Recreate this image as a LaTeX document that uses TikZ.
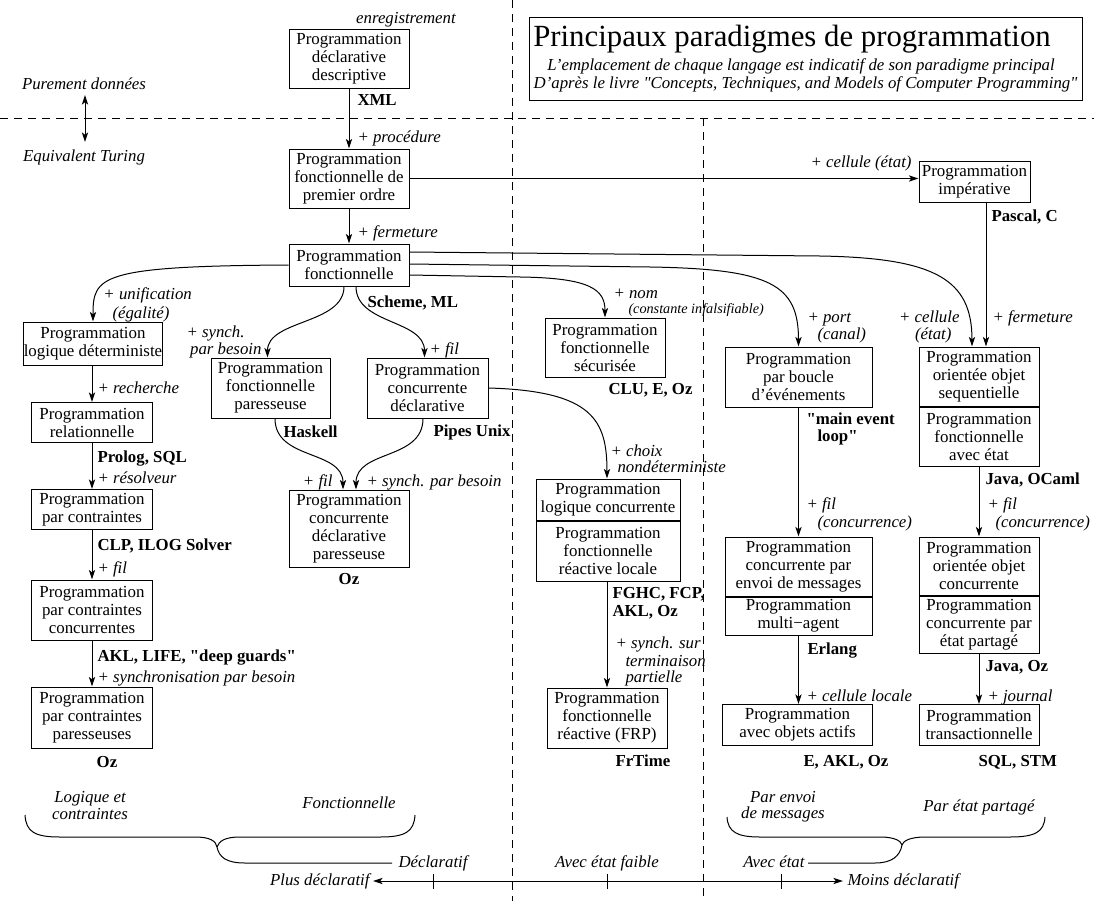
\documentclass[tikz,border=0pt]{standalone}
\usepackage{fontspec}
\setmainfont{Liberation Serif}[Ligatures=TeXOff]
\usetikzlibrary{arrows.meta,calc}
\newcommand\pgBox{\fontsize{8.45}{9}\selectfont}
\newcommand\pgLab{\fontsize{8.4}{8.5}\selectfont\itshape}
\newcommand\pgLang{\fontsize{8.4}{8.5}\selectfont\bfseries}
\newcommand\pgSmall{\fontsize{7.1}{8}\selectfont\itshape}
\newcommand\pgTitle{\fontsize{15.4}{17}\selectfont}
\begin{document}
\begin{tikzpicture}[x=0.5pt,y=-0.5pt,line width=0.5pt,
  bx/.style 2 args={draw, align=center, inner sep=0pt, minimum width=#1*0.5pt, minimum height=#2*0.5pt, font=\pgBox},
  lab/.style={inner sep=0pt, font=\pgLab, text height=5.8pt, text depth=1.6pt},
  lang/.style={inner sep=0pt, font=\pgLang, text height=5.8pt, text depth=1.6pt},
  sm/.style={inner sep=0pt, font=\pgSmall, text height=5pt, text depth=1.4pt},
  tip/.tip={Stealth[length=4.8pt,width=3.1pt,inset=1.2pt]},
  arr/.style={-tip},
  dsh/.style={dash pattern=on 4pt off 3pt},
]
\useasboundingbox (0,0) rectangle (1094,901);

% dashed separators
\coordinate (hl) at (0,118); \coordinate (hr) at (1094,118);
\coordinate (v1t) at (512,0); \coordinate (v1b) at (512,901);
\coordinate (v2t) at (703,118); \coordinate (v2b) at (703,901);
\draw[dsh] (hl) -- (hr);
\draw[dsh] (v1t) -- (v1b);
\draw[dsh] (v2t) -- (v2b);

% title
\node[draw, minimum width=276.5pt, minimum height=41.5pt, inner sep=0pt] (ttl) at (805.5,58.5) {};
\node[font=\pgTitle, inner sep=0pt] (ttlA) at (792,39) {Principaux paradigmes de programmation};
\node[lab] (ttlB) at (801,66) {L’emplacement de chaque langage est indicatif de son paradigme principal};
\node[lab] (ttlC) at (805.5,84) {D’après le livre "Concepts, Techniques, and Models of Computer Programming"};

% boxes
\node[bx={120}{59}] (xml) at (349,58.5) {Programmation\\déclarative\\descriptive};
\node[bx={120}{59}] (fpo) at (349,178.5) {Programmation\\fonctionnelle de\\premier ordre};
\node[bx={111}{41}] (imp) at (974.5,181.5) {Programmation\\impérative};
\node[bx={120}{42}] (fonc) at (349,265) {Programmation\\fonctionnelle};
\node[bx={138}{43}] (ldet) at (93,343.5) {Programmation\\logique déterministe};
\node[bx={121}{40}] (rel) at (92,422.5) {Programmation\\relationnelle};
\node[bx={121}{40}] (con) at (92,509.5) {Programmation\\par contraintes};
\node[bx={121}{60}] (ccc) at (92,610) {Programmation\\par contraintes\\concurrentes};
\node[bx={121}{61}] (cpar) at (92,717.5) {Programmation\\par contraintes\\paresseuses};
\node[bx={119}{60}] (lazy) at (270.5,388) {Programmation\\fonctionnelle\\paresseuse};
\node[bx={121}{60}] (cdec) at (427.5,388) {Programmation\\concurrente\\déclarative};
\node[bx={120}{77}] (cdl) at (349,528.5) {Programmation\\concurrente\\déclarative\\paresseuse};
\node[bx={120}{59}] (sec) at (605,347.5) {Programmation\\fonctionnelle\\sécurisée};
\node[bx={144}{41}] (lconA) at (608,499.5) {Programmation\\logique concurrente};
\node[bx={144}{60}, anchor=north] (lconB) at (lconA.south) {Programmation\\fonctionnelle\\réactive locale};
\node[bx={120}{60}] (frp) at (607,718) {Programmation\\fonctionnelle\\réactive (FRP)};
\node[bx={147}{60}] (ev) at (798.5,377) {Programmation\\par boucle\\d’événements};
\node[bx={147}{59}] (cmsgA) at (798.5,566.5) {Programmation\\concurrente par\\envoi de messages};
\node[bx={147}{38}, anchor=north] (cmsgB) at (cmsgA.south) {Programmation\\multi−agent};
\node[bx={150}{41}] (act) at (797.5,725) {Programmation\\avec objets actifs};
\node[bx={120}{59}] (oosA) at (979,376.5) {Programmation\\orientée objet\\sequentielle};
\node[bx={120}{59}, anchor=north] (oosB) at (oosA.south) {Programmation\\fonctionnelle\\avec état};
\node[bx={120}{58}] (ooccA) at (979,566) {Programmation\\orientée objet\\concurrente};
\node[bx={120}{57}, anchor=north] (ooccB) at (ooccA.south) {Programmation\\concurrente par\\état partagé};
\node[bx={120}{41}] (trans) at (979,725) {Programmation\\transactionnelle};

% connectors
\draw[arr] (xml) -- (fpo);
\draw[arr] (fpo) -- (fonc);
\draw[arr] (fpo.east) -- (fpo.east -| imp.west);
\draw[arr] (fonc.west) .. controls +(-190,1) and +(0,-45) .. (ldet.north);
\draw[arr] ([xshift=-2.5pt]fonc.south) .. controls +(0,38) and +(0,-38) .. ([xshift=-1.5pt]lazy.north);
\draw[arr] ([xshift=3.5pt]fonc.south) .. controls +(0,38) and +(0,-38) .. ([xshift=-1.5pt]cdec.north);
\draw[arr] ([yshift=6.5pt]fonc.east) -- ++(411,4) .. controls +(115,2) and +(0,-67) .. ([xshift=-3.5pt]oosA.north);
\draw[arr] ([yshift=0.5pt]fonc.east) -- ++(241,3) .. controls +(120,2) and +(0,-62) .. (ev.north);
\draw[arr] ([yshift=-5pt]fonc.east) -- ++(111,2) .. controls +(70,1) and +(0,-28) .. (sec.north);
\draw[arr] ([xshift=2.25pt]lazy.south) .. controls +(0,42) and +(0,-40) .. ([xshift=-3pt]cdl.north);
\draw[arr] ([xshift=-2.25pt]cdec.south) .. controls +(0,42) and +(0,-40) .. ([xshift=3.5pt]cdl.north);
\draw[arr] (cdec.east) .. controls +(105,3) and +(0,-58) .. ([xshift=-0.5pt]lconA.north);
\draw[arr] (lconB.south -| frp.north) -- (frp.north);
\draw[arr] (ldet.south -| rel.north) -- (rel.north);
\draw[arr] (rel) -- (con);
\draw[arr] (con) -- (ccc);
\draw[arr] (ccc) -- (cpar);
\draw[arr] (ev) -- (cmsgA);
\draw[arr] (cmsgB.south) -- (cmsgB.south |- act.north);
\draw[arr] ([xshift=5.75pt]imp.south) -- ([xshift=5.75pt]imp.south |- oosA.north);
\draw[arr] (oosB) -- (ooccA);
\draw[arr] (ooccB) -- (trans);

% labels
\node[lab] (lEnr) at (406,19) {enregistrement};
\node[lang, anchor=west] (lXML) at (357,101) {XML};
\node[lab, anchor=west] (lProc) at (357,138) {+ procédure};
\node[lab, anchor=west] (lFerm) at (357,233) {+ fermeture};
\node[lab, anchor=east] (lCell) at (912,163) {+ cellule (état)};
\node[lang, anchor=west] (lPascal) at (991,217) {Pascal, C};
\node[lang, anchor=west] (lScheme) at (367,303) {Scheme, ML};
\node[lab, anchor=west] (lUnif) at (103,295) {+ unification};
\node[lab, anchor=west] (lEgal) at (112,314) {(égalité)};
\node[lab, anchor=west] (lRech) at (97,389) {+ recherche};
\node[lang, anchor=west] (lProlog) at (97,458) {Prolog, SQL};
\node[lab, anchor=west] (lResol) at (97,479) {+ résolveur};
\node[lang, anchor=west] (lCLP) at (97,546) {CLP, ILOG Solver};
\node[lab, anchor=west] (lFil1) at (97,569) {+ fil};
\node[lang, anchor=west] (lAKL) at (97,657) {AKL, LIFE, "deep guards"};
\node[lab, anchor=west] (lSync) at (97,678) {+ synchronisation par besoin};
\node[lang] (lOz1) at (107,763) {Oz};
\node[lab, anchor=east] (lSyn1) at (245,333) {+ synch.};
\node[lab, anchor=east] (lSyn2) at (262,350) {par besoin};
\node[lang, anchor=west] (lHask) at (283,433) {Haskell};
\node[lab, anchor=west] (lFil2) at (429,350) {+ fil};
\node[lang, anchor=west] (lPipes) at (433,432) {Pipes Unix};
\node[lab, anchor=east] (lFil3) at (333,482) {+ fil};
\node[lab, anchor=west] (lSyn3) at (366,482) {+ synch. par besoin};
\node[lang] (lOz2) at (349,580) {Oz};
\node[lab, anchor=west] (lNom) at (613,294) {+ nom};
\node[sm, anchor=west] (lConst) at (628,310) {(constante infalsifiable)};
\node[lang, anchor=west] (lCLU) at (608,390) {CLU, E, Oz};
\node[lab, anchor=west] (lChoix) at (610,452) {+ choix};
\node[lab, anchor=west] (lNondet) at (617,468) {nondéterministe};
\node[lang, anchor=west] (lFGHC) at (612,594) {FGHC, FCP,};
\node[lang, anchor=west] (lAKL2) at (612,612) {AKL, Oz};
\node[lab, anchor=west] (lSsur) at (615,644) {+ synch. sur};
\node[lab, anchor=west] (lTerm) at (625,662) {terminaison};
\node[lab, anchor=west] (lPart) at (625,678) {partielle};
\node[lang, anchor=west] (lFrT) at (615,762) {FrTime};
\node[lab, anchor=west] (lPort) at (807,318) {+ port};
\node[lab, anchor=west] (lCanal) at (817,335) {(canal)};
\node[lab, anchor=east] (lCel2) at (960,318) {+ cellule};
\node[lab, anchor=east] (lEtat) at (952,335) {(état)};
\node[lab, anchor=west] (lFerm2) at (992,318) {+ fermeture};
\node[lang, anchor=west] (lMain) at (806,420) {"main event};
\node[lang, anchor=west] (lLoop) at (817,437) {loop"};
\node[lab, anchor=west] (lFil4) at (806,505) {+ fil};
\node[lab, anchor=west] (lConc1) at (817,523) {(concurrence)};
\node[lang, anchor=west] (lJava1) at (985,480) {Java, OCaml};
\node[lab, anchor=west] (lFil5) at (987,505) {+ fil};
\node[lab, anchor=west] (lConc2) at (995,523) {(concurrence)};
\node[lang, anchor=west] (lErl) at (807,650) {Erlang};
\node[lab, anchor=west] (lCloc) at (806,697) {+ cellule locale};
\node[lang, anchor=west] (lEAKL) at (803,762) {E, AKL, Oz};
\node[lang, anchor=west] (lJava2) at (985,667) {Java, Oz};
\node[lab, anchor=west] (lJour) at (987,697) {+ journal};
\node[lang, anchor=west] (lSQL) at (978,762) {SQL, STM};

% side annotations
\node[lab] (lPur) at (84,85) {Purement données};
\node[lab] (lEqu) at (84,157) {Equivalent Turing};
\coordinate (pdA) at (85,95); \coordinate (pdB) at (85,142);
\draw[tip-tip] (pdA) -- (pdB);

% bottom braces and axis
\node[lab] (lLog1) at (90,798) {Logique et};
\node[lab] (lLog2) at (90,815) {contraintes};
\node[lab] (lFonc) at (349,804) {Fonctionnelle};
\node[lab] (lEnv1) at (783,798) {Par envoi};
\node[lab] (lEnv2) at (783,814) {de messages};
\node[lab] (lEtp) at (979,807) {Par état partagé};
\node[lab, anchor=west] (lDecl) at (398,863) {Déclaratif};
\node[lab] (lFaible) at (607,863) {Avec état faible};
\node[lab, anchor=east] (lAvec) at (805,863) {Avec état};
\node[lab, anchor=east] (lPlus) at (370,881) {Plus déclaratif};
\node[lab, anchor=west] (lMoins) at (847,881) {Moins déclaratif};

\draw (25,815) .. controls (26,832) and (35,837) .. (60,837) -- (195,837) .. controls (210,837) and (216,841) .. (217,847);
\draw (415,815) .. controls (414,832) and (405,837) .. (380,837) -- (240,837) .. controls (225,837) and (219,841) .. (217,847);
\draw (217,847) .. controls (219,857) and (226,863) .. (245,863) -- ([xshift=-3pt]lDecl.west);
\draw (727,817) .. controls (728,832) and (737,837) .. (760,837) -- (880,837) .. controls (895,837) and (901,841) .. (902,845);
\draw (1045,817) .. controls (1044,832) and (1035,837) .. (1010,837) -- (925,837) .. controls (910,837) and (903,841) .. (902,845);
\draw (902,845) .. controls (900,856) and (892,863) .. (875,863) -- ([xshift=1.5pt]lAvec.east);

\coordinate (axL) at (373,881); \coordinate (axR) at (843,881);
\draw[tip-tip] (axL) -- (axR);
\coordinate (t1a) at (433,874); \coordinate (t1b) at (433,889);
\coordinate (t2a) at (607,874); \coordinate (t2b) at (607,889);
\coordinate (t3a) at (781,874); \coordinate (t3b) at (781,889);
\draw (t1a) -- (t1b);
\draw (t2a) -- (t2b);
\draw (t3a) -- (t3b);
\end{tikzpicture}
\end{document}
